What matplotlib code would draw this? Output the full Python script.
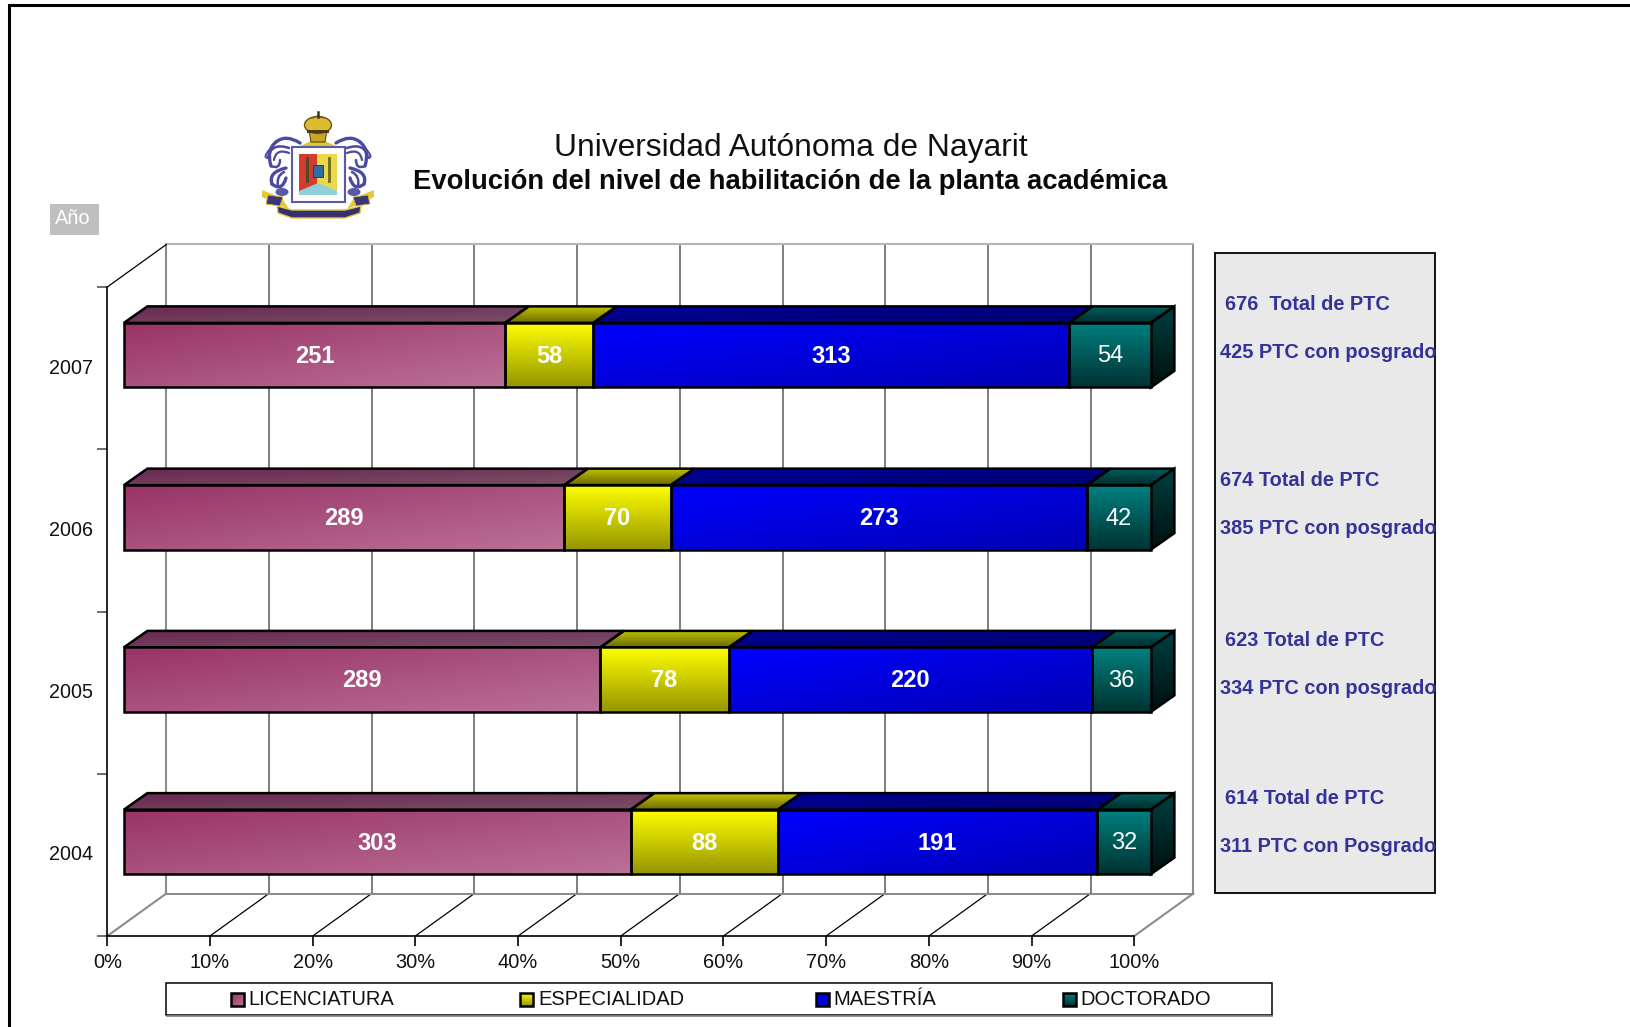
import numpy as np
import matplotlib
matplotlib.use("Agg")
import matplotlib.pyplot as plt
from matplotlib.colors import LinearSegmentedColormap
from matplotlib.patches import Polygon, Rectangle, Ellipse, PathPatch
from matplotlib.path import Path

plt.rcParams['font.family'] = ['Liberation Sans', 'DejaVu Sans']

years = ['2004', '2005', '2006', '2007']
licenciatura = [303, 289, 289, 251]
especialidad = [88, 78, 70, 58]
maestria = [191, 220, 273, 313]
doctorado = [32, 36, 42, 54]
series_names = ['LICENCIATURA', 'ESPECIALIDAD', 'MAESTRÍA', 'DOCTORADO']
pct_ticks = list(range(0, 101, 10))

side_texts = ['676  Total de PTC', '425 PTC con posgrado',
              '674 Total de PTC', '385 PTC con posgrado',
              '623 Total de PTC', '334 PTC con posgrado',
              '614 Total de PTC', '311 PTC con Posgrado']
side_x = [1225, 1220, 1220, 1220, 1225, 1220, 1225, 1220]
side_y = [304.5, 352.5, 480.5, 528.5, 640.5, 688.5, 799, 847]

# gradient: colour start, colour end, direction; for front / top faces
front_style = [('#993366', '#bb7197', 'diag'), ('#ffff00', '#959500', 'v'),
               ('#0000ff', '#0000b4', 'diag'), ('#008080', '#003232', 'v')]
top_style = [('#6a2850', '#7a4f68', 'diag'), ('#c4c400', '#6a6a00', 'v'),
             ('#000098', '#000070', 'diag'), ('#006060', '#002c2c', 'v')]

W, H = 1631, 1027
X0, X1 = 107.3, 1134.3     # 0% and 100% in pixels
Y_BOT, Y_TOP = 936.0, 287.0

fig = plt.figure(figsize=(W / 100, H / 100), dpi=100, facecolor='white')
ax = fig.add_axes([X0 / W, 1 - Y_BOT / H, (X1 - X0) / W, (Y_BOT - Y_TOP) / H])
ax.set_facecolor('none')
over = fig.add_axes([0, 0, 1, 1], zorder=5)
over.set_xlim(0, W)
over.set_ylim(H, 0)
over.axis('off')
over.patch.set_alpha(0)

ax.set_xlim(0, 100)
ax.set_ylim(0, 4)
PX = (X1 - X0) / 100
PY = (Y_BOT - Y_TOP) / 4


def gradient(a, poly, style, zorder=3):
    """fill polygon with a gradient, clipped to its shape"""
    c0, c1, mode = style
    cmap = LinearSegmentedColormap.from_list('g', [c0, c1])
    u = np.linspace(0, 1, 128)
    uu, vv = np.meshgrid(u, u)
    if mode == 'v':
        z = vv
    else:
        z = (uu + vv) / 2
    xs, ys = zip(*poly)
    extent = (min(xs), max(xs), max(ys), min(ys)) if a is over else (min(xs), max(xs), min(ys), max(ys))
    im = a.imshow(z, cmap=cmap, extent=extent, aspect='auto', origin='upper', zorder=zorder, vmin=0, vmax=1)
    pg = Polygon(poly, closed=True, facecolor='none', edgecolor='black', linewidth=1.8, zorder=zorder + 0.1,
                 joinstyle='miter', clip_on=False)
    a.add_patch(pg)
    im.set_clip_path(pg)
    im.set_clip_box(fig.bbox)
    return im


# walls, floor and grid
wall_dx = 59 / PX
wall_dy = 42.5 / PY
for t in pct_ticks[1:-1]:
    ax.plot([t + wall_dx, t + wall_dx], [wall_dy, 4 + wall_dy], color='#5a5a5a', lw=1.1, zorder=1, clip_on=False)
    ax.plot([t, t + wall_dx], [0, wall_dy], color='black', lw=0.9, zorder=1, clip_on=False)
for t in [0, 100]:
    ax.plot([t + wall_dx, t + wall_dx], [wall_dy, 4 + wall_dy], color='#8c8c8c', lw=1.5, zorder=1, clip_on=False)
    ax.plot([t, t + wall_dx], [0, wall_dy], color='#8c8c8c', lw=1.5, zorder=1, clip_on=False)
ax.plot([wall_dx, 100 + wall_dx], [wall_dy, wall_dy], color='#8c8c8c', lw=1.5, zorder=1, clip_on=False)
ax.plot([wall_dx, 100 + wall_dx], [4 + wall_dy, 4 + wall_dy], color='#b4b4b4', lw=1.5, zorder=1, clip_on=False)
ax.plot([0, wall_dx], [4, 4 + wall_dy], color='black', lw=0.9, zorder=1, clip_on=False)

# stacked bars
bar_dx = 16.6 / PX
bar_up = 13.0 / PY
bar_h = 64.5 / PY
dep_x = 23.5 / PX
dep_y = 16.5 / PY
data = np.array([licenciatura, especialidad, maestria, doctorado], dtype=float)
for i, year in enumerate(years):
    vals = data[:, i]
    pcts = vals / vals.sum() * 100
    left = bar_dx
    yb = i + 0.5 + bar_up - bar_h / 2
    yt = yb + bar_h
    for j in range(4):
        right = left + pcts[j]
        gradient(ax, [(left, yt), (left + dep_x, yt + dep_y), (right + dep_x, yt + dep_y), (right, yt)], top_style[j])
        gradient(ax, [(left, yb), (left, yt), (right, yt), (right, yb)], front_style[j], zorder=3.5)
        if j == 3:
            gradient(ax, [(right, yb), (right, yt), (right + dep_x, yt + dep_y), (right + dep_x, yb + dep_y)],
                     ('#003f3f', '#000f0f', 'v'))
        ax.text((left + right) / 2, (yb + yt) / 2 - 1.2 / PY, '%d' % vals[j], color='white', ha='center', va='center',
                fontsize=17, fontweight='normal' if j == 3 else 'bold', zorder=6)
        left = right

ax.set_xlim(0, 100)
ax.set_ylim(0, 4)

# axes
for s in ['top', 'right']:
    ax.spines[s].set_visible(False)
ax.spines['left'].set_linewidth(1.2)
ax.spines['bottom'].set_linewidth(1.2)
ax.set_xticks(pct_ticks)
ax.set_xticklabels(['%d%%' % t for t in pct_ticks], fontsize=14.4, color='#111111')
ax.tick_params(axis='x', length=7, width=1.2, pad=5)
ax.set_yticks(range(5))
ax.set_yticklabels([])
ax.tick_params(axis='y', which='major', length=7.5, width=1.1, color='#444444')
ax.set_yticks([i + 0.513 for i in range(4)], minor=True)
ax.set_yticklabels(years, minor=True, fontsize=14.2, color='#111111')
ax.tick_params(axis='y', which='minor', length=0, pad=10.3)

# page frame
over.plot([W, 9.5, 9.5], [5, 5, H], color='black', lw=2.2, solid_joinstyle='miter', clip_on=False)

# titles
over.text(790.5, 148, 'Universidad Autónoma de Nayarit', fontsize=22.9, ha='center', va='center', color='#111111')
over.text(790.5, 182, 'Evolución del nivel de habilitación de la planta académica', fontsize=19.7,
          fontweight='bold', ha='center', va='center', color='#0a0a0a')

# field button
over.add_patch(Rectangle((50, 204), 49, 31, facecolor='#bfbfbf', edgecolor='none'))
over.text(73, 218, 'Año', color='white', fontsize=14.4, ha='center', va='center')

# side panel
over.add_patch(Rectangle((1215.5, 253), 219.5, 640, facecolor='#e9e9e9', edgecolor='black', lw=1.3))
for s, x, y in zip(side_texts, side_x, side_y):
    over.text(x, y, s, color='#333399', fontsize=14.4, fontweight='bold', ha='left', va='center', clip_on=False)

# legend
over.add_patch(Rectangle((166.5, 983), 1105.5, 32, facecolor='white', edgecolor='black', lw=1.1))
over.plot([167, 1272], [1015.5, 1015.5], color='#808080', lw=1.2)
leg_sw = [231, 520, 816, 1063]
leg_tx = [248.5, 538.5, 833, 1080]
for name, sx, tx, st in zip(series_names, leg_sw, leg_tx, front_style):
    gradient(over, [(sx, 993), (sx + 13, 993), (sx + 13, 1006), (sx, 1006)], st, zorder=6)
    over.text(tx, 999.5, name, fontsize=14.5, ha='left', va='center', color='#111111')


# crest, drawn roughly with shapes
def curve(a, pts, color, lw):
    codes = [Path.MOVETO] + [Path.CURVE3] * (len(pts) - 1)
    a.add_patch(PathPatch(Path(pts, codes), facecolor='none', edgecolor=color, lw=lw, capstyle='round'))


CX = 318
NAVY = '#4b4a9e'
for side in [-1, 1]:
    m = lambda x: CX + side * x
    curve(over, [(m(18), 143), (m(32), 134), (m(42), 142)], NAVY, 2.4)
    curve(over, [(m(42), 142), (m(52), 150), (m(47), 166)], NAVY, 2.4)
    curve(over, [(m(29), 148), (m(47), 142), (m(50), 158)], NAVY, 1.8)
    curve(over, [(m(29), 153), (m(42), 148), (m(44), 160)], NAVY, 1.6)
    curve(over, [(m(47), 166), (m(38), 170), (m(38), 160)], NAVY, 1.8)
    curve(over, [(m(32), 168), (m(50), 172), (m(46), 184)], NAVY, 2.4)
    curve(over, [(m(46), 184), (m(36), 192), (m(32), 178)], NAVY, 2.4)
    curve(over, [(m(34), 172), (m(42), 176), (m(40), 186)], NAVY, 1.8)
    curve(over, [(m(50), 158), (m(56), 158), (m(48), 149)], NAVY, 1.4)
    over.add_patch(Ellipse((m(36), 192), 13, 8, facecolor='#5a58a8', edgecolor='none'))
    over.add_patch(Polygon([(m(56), 190), (m(36), 198), (m(29), 209), (m(42), 204), (m(56), 197)],
                           facecolor='#e2c93a', edgecolor='none'))
    over.add_patch(Polygon([(m(50), 195), (m(52), 204), (m(38), 206), (m(35), 197)],
                           facecolor='#3c3678', edgecolor='#d8c030', lw=0.6))
# crown
over.add_patch(Polygon([(298, 147), (311, 141), (325, 141), (338, 147)], facecolor='#dcc62f', edgecolor='none'))
over.add_patch(Polygon([(309, 130), (327, 130), (325, 142), (311, 142)], facecolor='#c8a82a', edgecolor='#5a4a10',
                       lw=0.8))
over.add_patch(Ellipse((318, 125), 27, 17, facecolor='#dcbb30', edgecolor='#6a5812', lw=1.0))
over.plot([312, 318, 324], [118, 116, 118], color='#6a5812', lw=1.0)
over.plot([318, 318], [112, 117], color='#3c3420', lw=1.8)
over.add_patch(Rectangle((307, 130), 22, 2.5, facecolor='#4a3c10', edgecolor='none'))
# shield
over.add_patch(Rectangle((292, 147), 53, 55, facecolor='white', edgecolor='#5a5aa8', lw=1.5))
over.add_patch(Rectangle((299, 154), 18, 37, facecolor='#d83a2c', edgecolor='none'))
over.add_patch(Rectangle((317, 154), 20, 37, facecolor='#ecd94a', edgecolor='none'))
over.add_patch(Polygon([(299, 191), (318, 183), (337, 191), (337, 195), (299, 195)], facecolor='#8fd0d8',
                       edgecolor='none'))
over.add_patch(Rectangle((313, 165), 10, 12, facecolor='#2c6fa8', edgecolor='#203050', lw=0.6))
over.plot([307, 307], [158, 181], color='#405020', lw=2)
over.plot([329, 329], [158, 181], color='#6a6a20', lw=2)
# ribbon
over.add_patch(Polygon([(277, 206), (292, 210), (345, 210), (361, 206), (360, 213), (345, 218), (292, 218), (278, 213)],
                       facecolor='#36306e', edgecolor='#e2c93a', lw=1.0))

fig.savefig('out.png', dpi=100, facecolor='white')
